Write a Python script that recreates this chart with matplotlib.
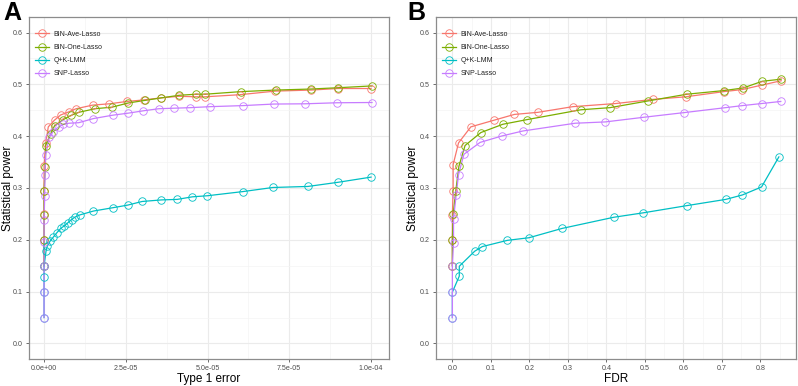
import matplotlib
matplotlib.use("Agg")
import matplotlib.pyplot as plt
from matplotlib.ticker import FuncFormatter, MultipleLocator

plt.rcParams['font.family'] = ['Liberation Sans', 'DejaVu Sans']

# ggplot default hue palette
methods = ["BIN-Ave-Lasso", "BIN-One-Lasso", "Q+K-LMM", "SNP-Lasso"]
colors = ["#F8766D", "#7CAE00", "#00BFC4", "#C77CFF"]

# Panel A: power vs type 1 error
a_ave_x = [0, 0, 0, 0, 0, 0.5e-6, 1.3e-6, 3.2e-6, 5.1e-6, 7.6e-6, 9.8e-6, 1.49e-5, 2.0e-5,
           2.53e-5, 3.06e-5, 3.59e-5, 4.13e-5, 4.65e-5, 4.92e-5, 5.98e-5, 7.07e-5, 8.17e-5,
           8.99e-5, 1.0e-4]
a_ave_y = [0.15, 0.2, 0.25, 0.295, 0.343, 0.386, 0.418, 0.431, 0.441, 0.447, 0.453, 0.460,
           0.4625, 0.467, 0.470, 0.474, 0.477, 0.476, 0.476, 0.480, 0.487, 0.489, 0.492, 0.492]
a_one_x = [0, 0, 0, 0, 0.4e-6, 0.5e-6, 2.0e-6, 3.2e-6, 5.9e-6, 8.2e-6, 1.06e-5, 1.56e-5,
           2.08e-5, 2.57e-5, 3.08e-5, 3.59e-5, 4.14e-5, 4.66e-5, 4.93e-5, 6.02e-5, 7.08e-5,
           8.16e-5, 8.99e-5, 1.003e-4]
a_one_y = [0.149, 0.2, 0.248, 0.295, 0.341, 0.382, 0.404, 0.42, 0.432, 0.44, 0.446, 0.453,
           0.456, 0.464, 0.469, 0.474, 0.479, 0.481, 0.481, 0.486, 0.489, 0.491, 0.4935, 0.497]
a_lmm_x = [0, 0, 0, 0, 0.6e-6, 1.0e-6, 1.8e-6, 2.8e-6, 3.9e-6, 5.1e-6, 6.2e-6, 7.3e-6, 8.4e-6,
           9.5e-6, 1.09e-5, 1.51e-5, 2.11e-5, 2.56e-5, 3.0e-5, 3.59e-5, 4.07e-5, 4.54e-5,
           4.99e-5, 6.07e-5, 7.0e-5, 8.07e-5, 8.99e-5, 1.0e-4]
a_lmm_y = [0.05, 0.099, 0.129, 0.149, 0.178, 0.188, 0.197, 0.205, 0.2135, 0.222, 0.227, 0.233,
           0.239, 0.244, 0.248, 0.2555, 0.262, 0.267, 0.274, 0.277, 0.278, 0.283, 0.285, 0.293,
           0.301, 0.303, 0.311, 0.321]
a_snp_x = [0, 0, 0, 0, 0, 0.2e-6, 0.3e-6, 0.5e-6, 1.6e-6, 2.8e-6, 4.5e-6, 5.9e-6, 7.6e-6,
           1.06e-5, 1.51e-5, 2.1e-5, 2.58e-5, 3.04e-5, 3.51e-5, 3.97e-5, 4.46e-5, 5.09e-5,
           6.08e-5, 7.02e-5, 7.98e-5, 8.96e-5, 1.003e-4]
a_snp_y = [0.05, 0.1, 0.15, 0.195, 0.239, 0.284, 0.325, 0.364, 0.398, 0.409, 0.418, 0.423,
           0.425, 0.426, 0.434, 0.4405, 0.4445, 0.449, 0.453, 0.454, 0.455, 0.457, 0.459,
           0.462, 0.4625, 0.4645, 0.465]

# Panel B: power vs FDR
b_ave_x = [0, 0, 0, 0.002, 0.002, 0.016, 0.048, 0.109, 0.161, 0.222, 0.313, 0.424, 0.521,
           0.606, 0.705, 0.753, 0.803, 0.854]
b_ave_y = [0.15, 0.2, 0.247, 0.295, 0.345, 0.387, 0.418, 0.431, 0.442, 0.446, 0.457, 0.463,
           0.471, 0.476, 0.486, 0.490, 0.4985, 0.507]
b_one_x = [0, 0, 0.002, 0.009, 0.017, 0.033, 0.074, 0.131, 0.194, 0.334, 0.409, 0.508, 0.609,
           0.705, 0.755, 0.805, 0.854]
b_one_y = [0.15, 0.2, 0.249, 0.295, 0.342, 0.382, 0.407, 0.423, 0.432, 0.451, 0.455, 0.468,
           0.481, 0.488, 0.493, 0.506, 0.51]
b_lmm_x = [0, 0, 0.018, 0.018, 0.058, 0.078, 0.143, 0.199, 0.285, 0.419, 0.495, 0.609, 0.71,
           0.753, 0.803, 0.848]
b_lmm_y = [0.05, 0.099, 0.13, 0.149, 0.178, 0.187, 0.199, 0.204, 0.222, 0.2435, 0.252, 0.266,
           0.278, 0.2865, 0.302, 0.36]
b_snp_x = [0, 0, 0, 0.003, 0.003, 0.01, 0.016, 0.03, 0.072, 0.129, 0.183, 0.319, 0.397, 0.497,
           0.602, 0.709, 0.753, 0.803, 0.853]
b_snp_y = [0.05, 0.1, 0.15, 0.194, 0.241, 0.287, 0.326, 0.365, 0.388, 0.4005, 0.41, 0.425,
           0.4275, 0.4365, 0.4455, 0.455, 0.459, 0.463, 0.467]

y_ticks = [0.0, 0.1, 0.2, 0.3, 0.4, 0.5, 0.6]

W, H = 798, 386
fig = plt.figure(figsize=(W / 100, H / 100), dpi=100)
axA = fig.add_axes([29 / W, (H - 359) / H, 360 / W, 342 / H])
axB = fig.add_axes([436 / W, (H - 359) / H, 360 / W, 342 / H])

MS = 5.4


def draw_panel(ax, series, xlim, xstep, xfmt, xlabel, ylab_x):
    # lines first, then points (ggplot layer order)
    for (xs, ys), c in zip(series, colors):
        ax.plot(xs, ys, color=c, lw=0.9, zorder=3)
    for (xs, ys), c in zip(series, colors):
        ax.plot(xs, ys, ls="none", marker="o", ms=MS, mfc="none", mec=c, mew=0.6,
                zorder=4)
    handles = [plt.Line2D([], [], color=c, lw=0.9, marker="o", ms=MS, mfc="none",
                          mec=c, mew=0.6) for c in colors]
    leg = ax.legend(handles, methods, loc="upper left", frameon=False, fontsize=5,
                    handlelength=2.0, handletextpad=0.6, labelspacing=0.9,
                    borderaxespad=0.0, bbox_to_anchor=(0.01, 0.968))
    for t in leg.get_texts():
        t.set_color("#222222")

    ax.set_xlim(*xlim)
    ax.set_ylim(-0.03, 0.63)
    ax.set_yticks(y_ticks)
    ax.yaxis.set_major_formatter(FuncFormatter(lambda v, p: f"{v:.1f}"))
    ax.yaxis.set_minor_locator(MultipleLocator(0.05))
    ax.xaxis.set_major_locator(MultipleLocator(xstep))
    ax.xaxis.set_minor_locator(MultipleLocator(xstep / 2))
    ax.xaxis.set_major_formatter(FuncFormatter(xfmt))
    ax.grid(which="major", color="#EBEBEB", lw=0.8, zorder=0)
    ax.grid(which="minor", color="#F4F4F4", lw=0.5, zorder=0)
    ax.set_axisbelow(True)
    for s in ax.spines.values():
        s.set_color("#8C8C8C")
        s.set_linewidth(0.9)
    ax.tick_params(which="major", length=2.2, width=0.6, color="#555555",
                   labelsize=5.1, labelcolor="#4D4D4D", pad=2)
    ax.tick_params(which="minor", length=0)
    ax.set_xlabel(xlabel, fontsize=8.5, labelpad=0.5)
    ax.set_ylabel("Statistical power", fontsize=8.5)
    ax.yaxis.set_label_coords(ylab_x, 0.5)


draw_panel(axA,
           [(a_ave_x, a_ave_y), (a_one_x, a_one_y), (a_lmm_x, a_lmm_y), (a_snp_x, a_snp_y)],
           (-4.6e-6, 1.055e-4), 2.5e-5, lambda v, p: f"{v:.1e}", "Type 1 error",
           (14 - 29) / 360)
draw_panel(axB,
           [(b_ave_x, b_ave_y), (b_one_x, b_one_y), (b_lmm_x, b_lmm_y), (b_snp_x, b_snp_y)],
           (-0.0425, 0.8925), 0.1, lambda v, p: f"{v:.1f}", "FDR",
           (419 - 436) / 360)

fig.text(3 / W, 1 - 1 / H, "A", fontsize=18, fontweight="bold", va="top", ha="left")
fig.text(407 / W, 1 - 1 / H, "B", fontsize=18, fontweight="bold", va="top", ha="left")

fig.savefig("out.png", dpi=100)
